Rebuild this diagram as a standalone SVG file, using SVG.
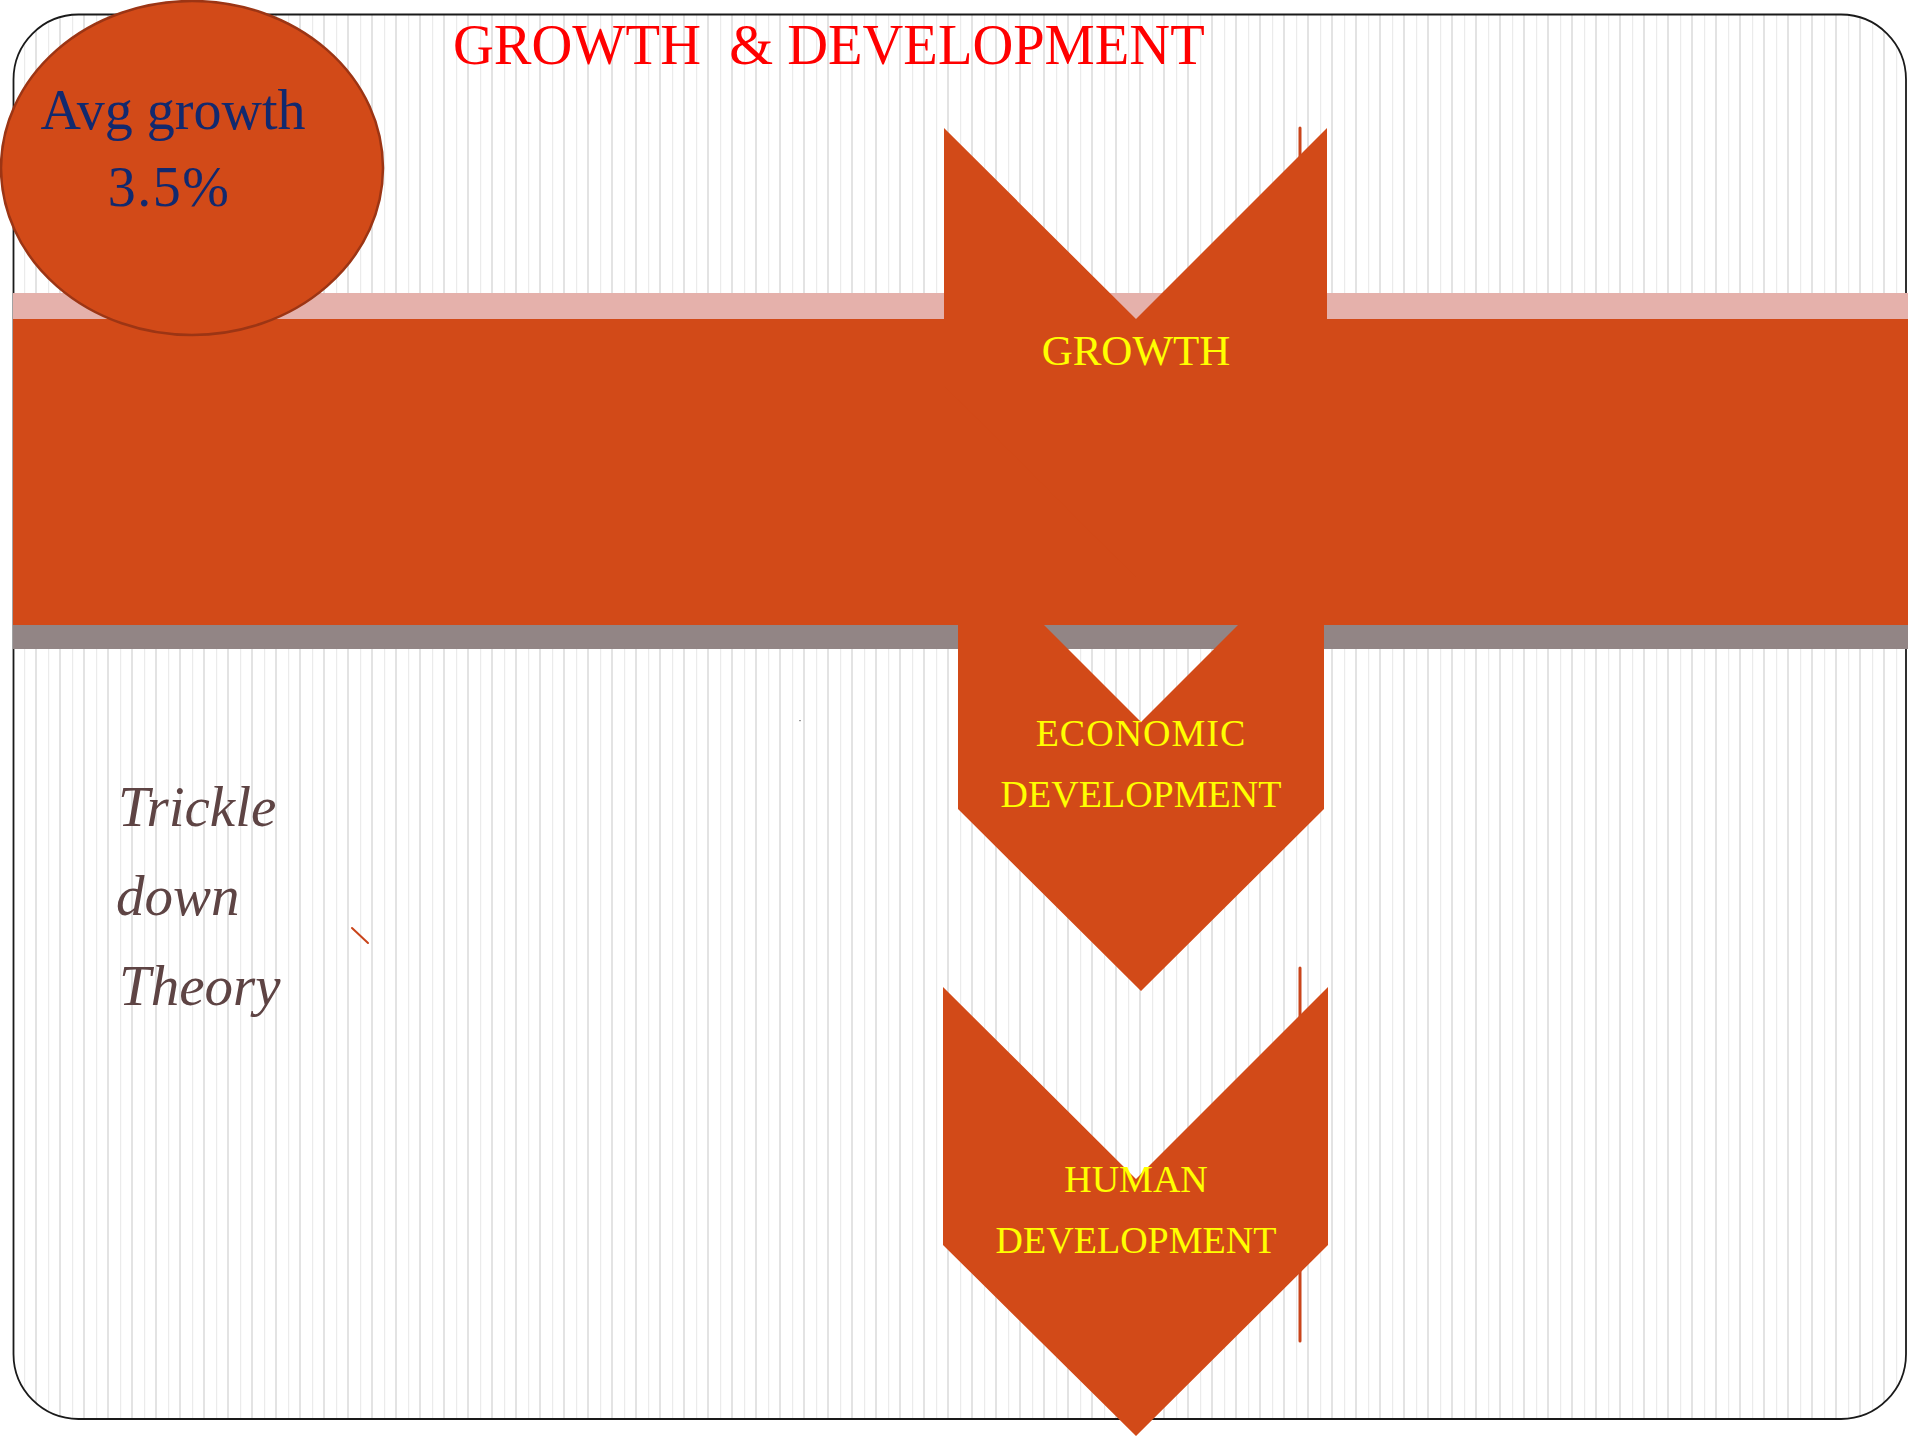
<svg xmlns="http://www.w3.org/2000/svg" width="1920" height="1440" viewBox="0 0 1920 1440">
  <defs>
    <!-- fine vertical pinstripes of the slide background -->
    <pattern id="pinstripe" patternUnits="userSpaceOnUse" x="0" y="0" width="24" height="10">
      <rect x="0" y="0" width="1.2" height="10" fill="#ebebeb"/>
      <rect x="11" y="0" width="2" height="10" fill="#e3e3e3"/>
    </pattern>
    <style>
      .chev { fill: #d24a18; }
      .label { font-family: "Liberation Serif", "Times New Roman", serif; fill: #ffff00; text-anchor: middle; }
      .link { stroke: #c9441a; fill: none; stroke-linecap: round; }
    </style>
  </defs>

  <rect width="1920" height="1440" fill="#ffffff"/>

  <!-- slide frame -->
  <g id="frame">
    <rect x="13.5" y="14.5" width="1892.5" height="1404.5" rx="65" ry="65" fill="#ffffff"/>
    <rect x="13.5" y="14.5" width="1892.5" height="1404.5" rx="65" ry="65" fill="url(#pinstripe)" stroke="#1a1a1a" stroke-width="1.8"/>
  </g>

  <!-- thin connecting lines running behind the chevrons -->
  <g id="connectors">
    <line class="link" x1="1300" y1="128" x2="1300" y2="500" stroke-width="3"/>
    <line class="link" x1="1300" y1="968" x2="1300" y2="1341" stroke-width="3"/>
    <line class="link" x1="352" y1="928" x2="368" y2="943" stroke-width="2" stroke="#b83a17"/>
    <rect x="799" y="720" width="2" height="1.2" fill="#9a9a9a"/>
  </g>

  <!-- horizontal banner -->
  <g id="banner">
    <rect x="13" y="293" width="1895" height="26" fill="#e5b1ab"/>
    <rect x="13" y="319" width="1895" height="306" fill="#d24a18"/>
    <rect x="13" y="625" width="1895" height="24" fill="#928585"/>
  </g>

  <!-- chevron: GROWTH -->
  <g id="node-growth">
    <polygon class="chev" points="944,128 1136,319 1327,128 1327,386 1136,577 944,386"/>
    <text class="label" x="1136" y="365" font-size="43">GROWTH</text>
  </g>

  <!-- chevron: ECONOMIC DEVELOPMENT -->
  <g id="node-economic">
    <polygon class="chev" points="958,539 1141,722 1324,539 1324,809 1141,991 958,809"/>
    <text class="label" x="1141" y="746" font-size="38" letter-spacing="1">ECONOMIC</text>
    <text class="label" x="1141" y="807" font-size="38">DEVELOPMENT</text>
  </g>

  <!-- chevron: HUMAN DEVELOPMENT -->
  <g id="node-human">
    <polygon class="chev" points="943,987 1136,1179 1328,987 1328,1245 1136,1436 943,1245"/>
    <text class="label" x="1136" y="1192" font-size="38">HUMAN</text>
    <text class="label" x="1136" y="1253" font-size="38">DEVELOPMENT</text>
  </g>

  <!-- badge: average growth -->
  <g id="node-avg-growth">
    <ellipse cx="192" cy="168" rx="191" ry="167" fill="#d24a18" stroke="#9c3514" stroke-width="2.5"/>
    <text x="173" y="129" font-family="Liberation Serif, Times New Roman, serif" font-size="56" fill="#12296e" text-anchor="middle">Avg growth</text>
    <text x="169" y="206" font-family="Liberation Serif, Times New Roman, serif" font-size="56" fill="#12296e" text-anchor="middle" letter-spacing="1.5">3.5%</text>
  </g>

  <!-- heading -->
  <g id="title">
    <text x="453" y="64" font-family="Liberation Serif, Times New Roman, serif" font-size="56.5" fill="#ff0000" xml:space="preserve" style="white-space:pre">GROWTH  &amp; DEVELOPMENT</text>
  </g>

  <!-- side note -->
  <g id="node-trickle">
    <text font-family="Liberation Serif, Times New Roman, serif" font-style="italic" font-size="57" fill="#5e4444">
      <tspan x="118" y="826">Trickle</tspan>
      <tspan x="116" y="915">down</tspan>
      <tspan x="119" y="1005">Theory</tspan>
    </text>
  </g>
</svg>
